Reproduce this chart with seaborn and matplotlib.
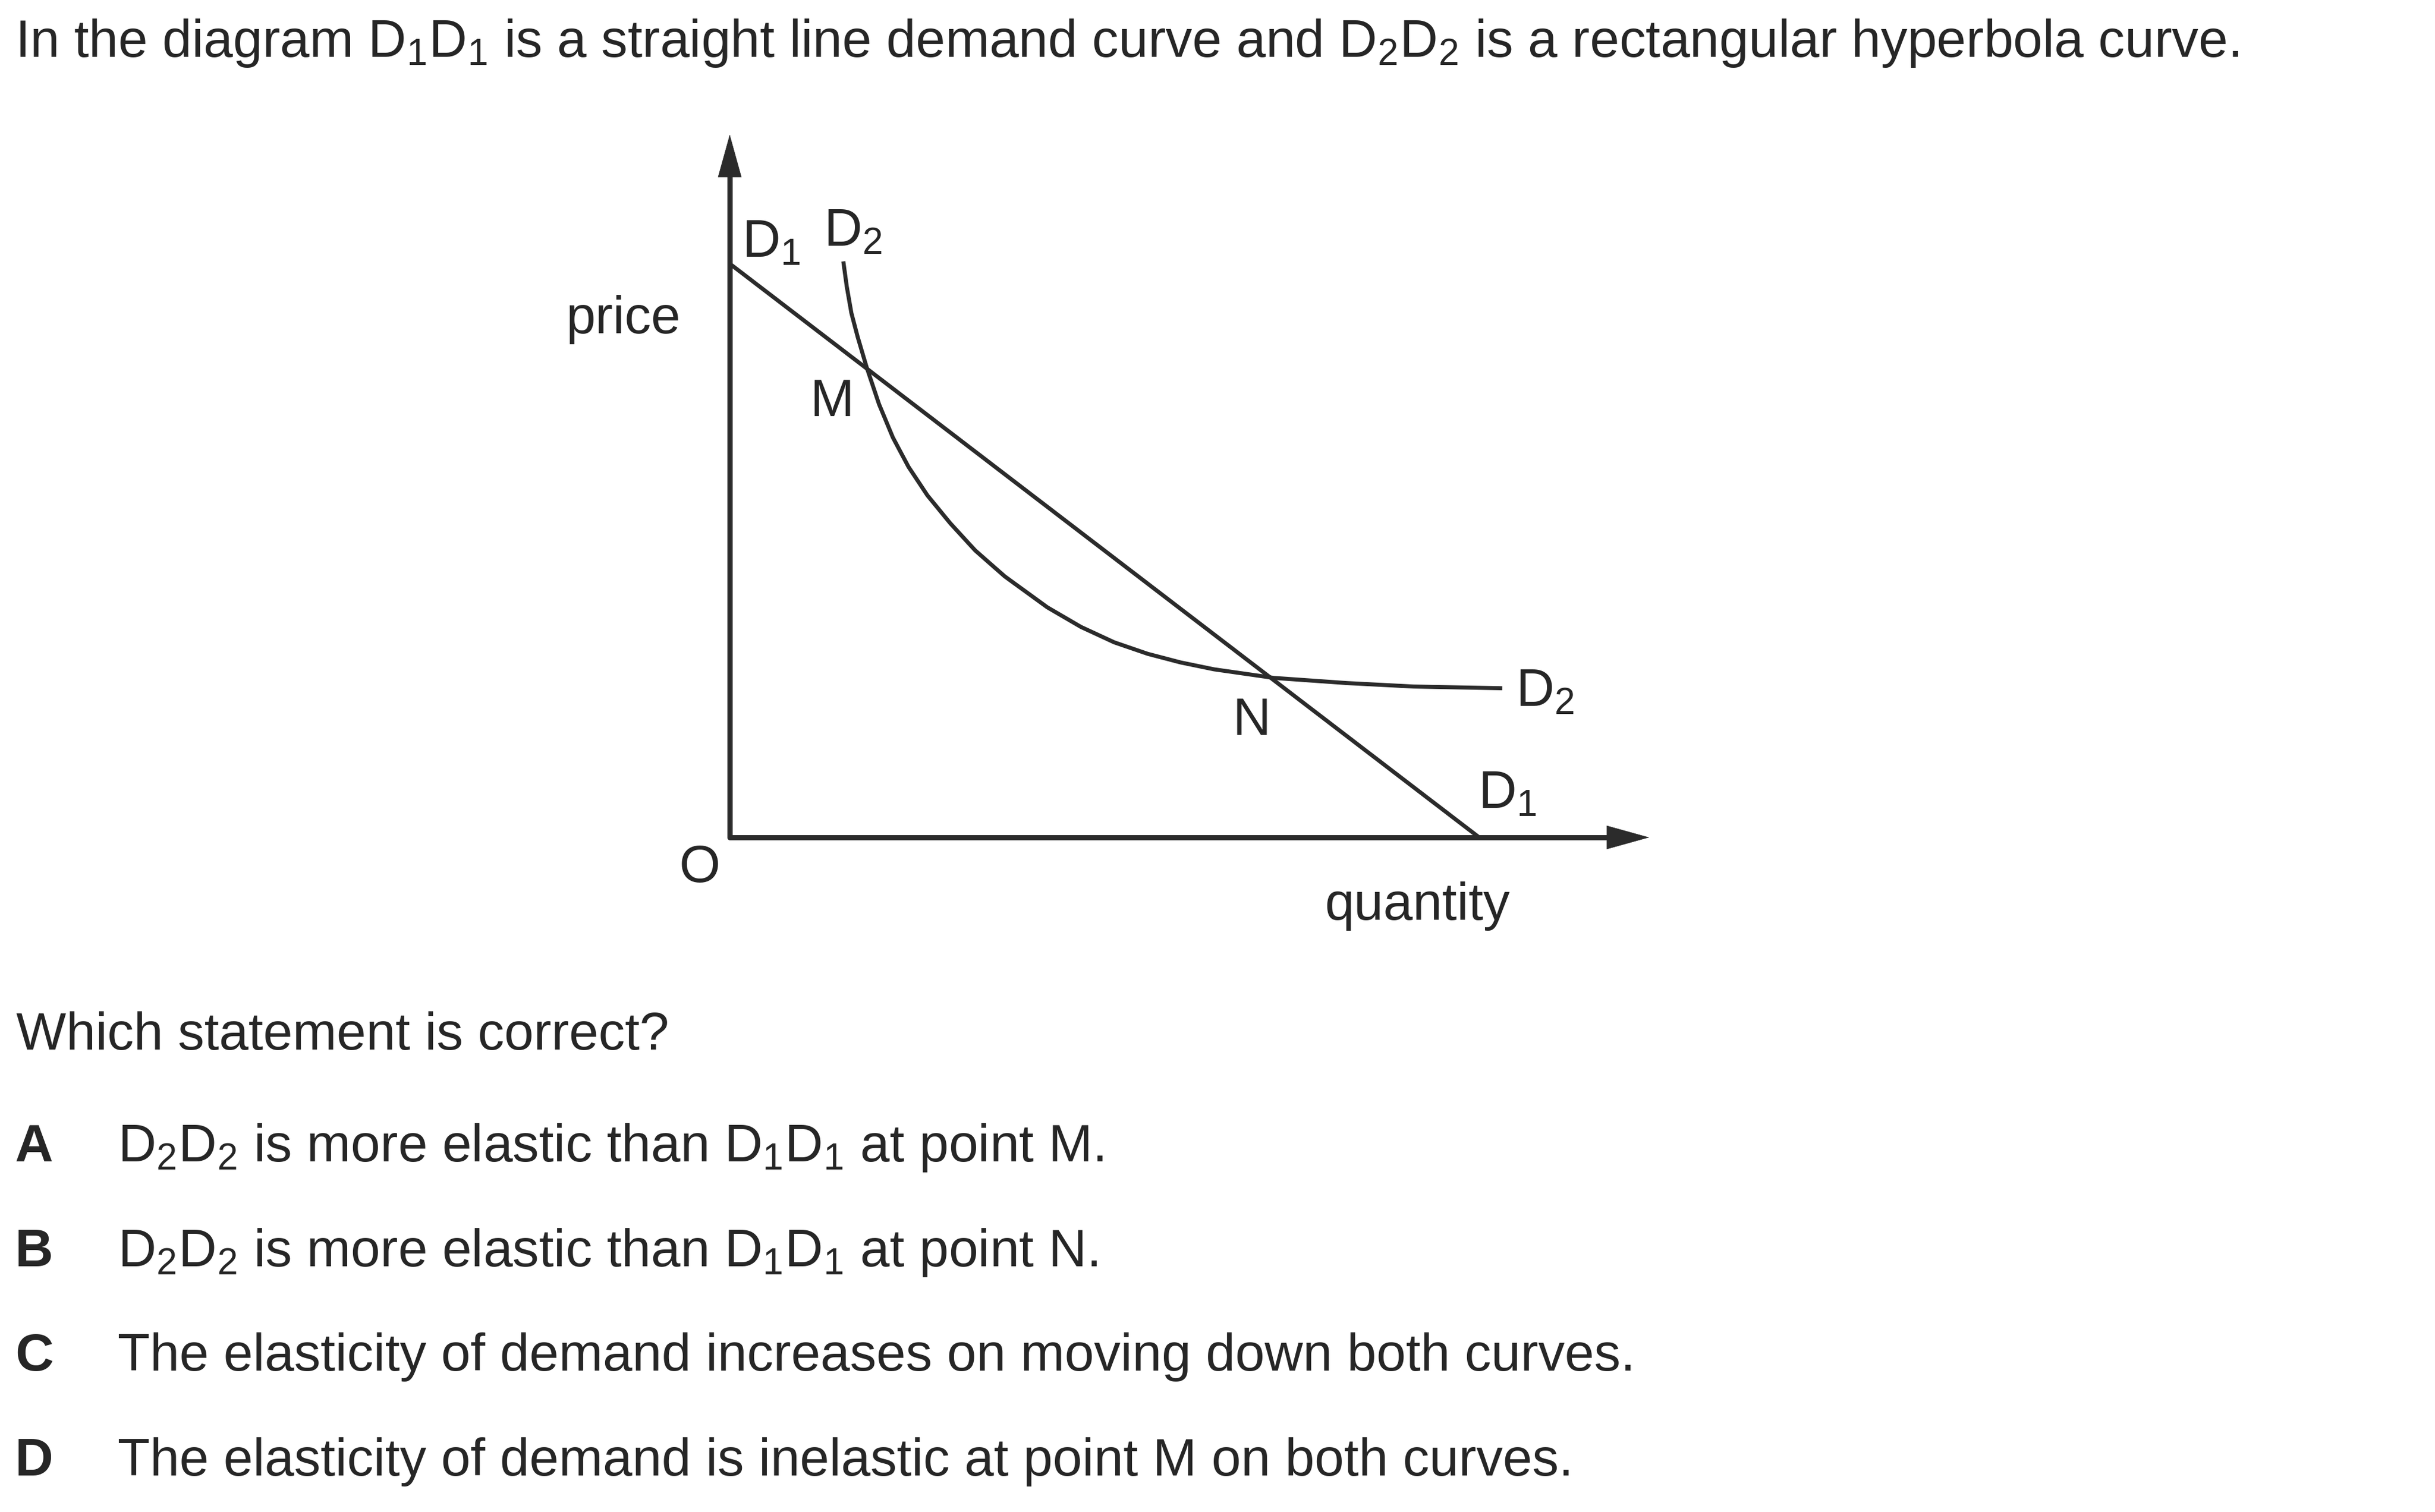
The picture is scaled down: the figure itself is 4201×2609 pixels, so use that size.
import seaborn as sns
import matplotlib.pyplot as plt

# D1D1: straight line demand curve, ends on both axes (quantity, price)
d1_quantity = [0.0, 13.0]
d1_price = [10.0, 0.0]

# D2D2: rectangular hyperbola
d2_quantity = [1.97, 2.03, 2.11, 2.22, 2.37, 2.59, 2.83, 3.10, 3.43, 3.83, 4.26,
               4.77, 5.51, 6.09, 6.67, 7.25, 7.82, 8.40, 9.44, 10.71, 11.86, 13.40]
d2_price = [10.04, 9.60, 9.14, 8.72, 8.21, 7.55, 6.97, 6.46, 5.96, 5.47, 5.00,
            4.55, 4.01, 3.67, 3.40, 3.20, 3.05, 2.93, 2.78, 2.69, 2.63, 2.60]

# axis arrow tips
q_axis_max = 15.95
p_axis_max = 12.25

title = ("In the diagram D$_1$D$_1$ is a straight line demand curve and "
         "D$_2$D$_2$ is a rectangular hyperbola curve.")
question = "Which statement is correct?"
option_letters = ["A", "B", "C", "D"]
option_texts = [
    "D$_2$D$_2$ is more elastic than D$_1$D$_1$ at point M.",
    "D$_2$D$_2$ is more elastic than D$_1$D$_1$ at point N.",
    "The elasticity of demand increases on moving down both curves.",
    "The elasticity of demand is inelastic at point M on both curves.",
]

sns.set_theme(style="white")
plt.rcParams["font.family"] = ["Liberation Sans", "DejaVu Sans"]
plt.rcParams["mathtext.fontset"] = "custom"
plt.rcParams["mathtext.rm"] = "Liberation Sans"
plt.rcParams["mathtext.it"] = "Liberation Sans:italic"
plt.rcParams["mathtext.bf"] = "Liberation Sans:bold"

W, H = 4201, 2609
fs = 65.7
line_color = "#2b2b2b"

fig = plt.figure(figsize=(W / 100, H / 100), dpi=100)

def fxy(px, py):
    return px / W, 1 - py / H

# diagram axes: origin O at pixel (1259, 1445), ~99 px per unit
ax = fig.add_axes([1259 / W, (H - 1445) / H, 1600 / W, 1240 / H])
ax.set_xlim(0, 1600 / 99.46)
ax.set_ylim(0, 1240 / 99.0)
ax.set_axis_off()

# axes with arrowheads
ax.plot([0, 0, q_axis_max - 0.4], [p_axis_max - 0.4, 0, 0], color=line_color,
        lw=6.5, solid_joinstyle="miter", solid_capstyle="butt", clip_on=False)
arrow = dict(arrowstyle="-|>,head_length=51.8,head_width=14.4", mutation_scale=1,
             lw=0.5, color=line_color, shrinkA=0, shrinkB=0)
ax.annotate("", xy=(0, p_axis_max), xytext=(0, p_axis_max - 1.0),
            arrowprops=arrow, annotation_clip=False)
ax.annotate("", xy=(q_axis_max, 0), xytext=(q_axis_max - 1.0, 0),
            arrowprops=arrow, annotation_clip=False)

# demand curves
sns.lineplot(x=d1_quantity, y=d1_price, color=line_color, linewidth=5.0, ax=ax)
sns.lineplot(x=d2_quantity, y=d2_price, color=line_color, linewidth=5.0, ax=ax)
for ln in ax.lines:
    ln.set_clip_on(False)
    ln.set_solid_joinstyle("round")
    ln.set_solid_capstyle("butt")

# diagram labels
ax.text(-0.855, 8.79, "price", fontsize=fs, ha="right", va="baseline")
ax.text(-0.52, -0.78, "O", fontsize=fs, ha="center", va="baseline")
ax.text(11.92, -1.43, "quantity", fontsize=fs, ha="center", va="baseline")
ax.text(1.77, 7.34, "M", fontsize=fs, ha="center", va="baseline")
ax.text(9.05, 1.79, "N", fontsize=fs, ha="center", va="baseline")
ax.text(0.21, 10.12, "D$_1$", fontsize=fs, ha="left", va="baseline")
ax.text(1.63, 10.31, "D$_2$", fontsize=fs, ha="left", va="baseline")
ax.text(13.63, 2.29, "D$_2$", fontsize=fs, ha="left", va="baseline")
ax.text(12.98, 0.505, "D$_1$", fontsize=fs, ha="left", va="baseline")

# question text
fig.text(*fxy(26, 98), title, fontsize=fs, ha="left", va="baseline")
fig.text(*fxy(28, 1811), question, fontsize=fs, ha="left", va="baseline")
for i, (letter, text) in enumerate(zip(option_letters, option_texts)):
    y = 2004 + i * 180.7
    fig.text(*fxy(26, y), letter, fontsize=fs, fontweight="bold",
             ha="left", va="baseline")
    fig.text(*fxy(203, y), text, fontsize=fs, ha="left", va="baseline")

fig.savefig("out.png", dpi=100, facecolor="white")
